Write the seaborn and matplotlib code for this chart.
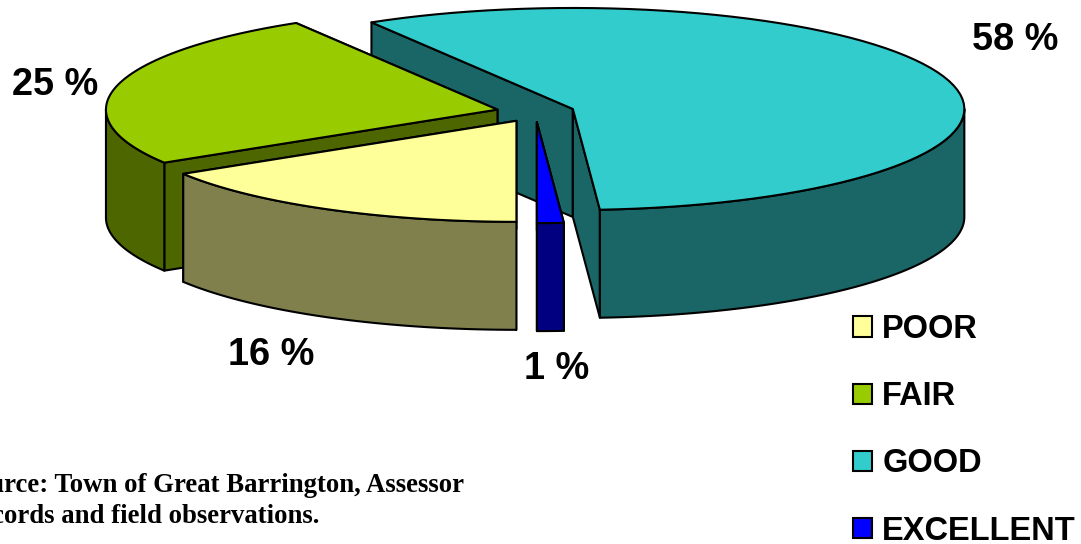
import numpy as np
import matplotlib
matplotlib.use("Agg")
import matplotlib.pyplot as plt
import seaborn as sns
from matplotlib.patches import Patch, Polygon

categories = ["POOR", "FAIR", "GOOD", "EXCELLENT"]
shares = [16.2, 25.2, 57.5, 1.1]
colors = ["#FFFF99", "#99CC00", "#33CCCC", "#0000FF"]
share_labels = ["16 %", "25 %", "58 %", "1 %"]

# pie geometry in pixels, the axes runs 1:1 with the image
cx, cy = 535.5, 112
rx, ry = 391.5, 101
depth = 108
explode = 0.1
first_angle = -90
draw_order = [2, 1, 0, 3]  # back to front
label_pos = [(271, 355), (55, 85), (1015, 40), (557, 369)]

sns.set_theme(style="white")
plt.rcParams["font.family"] = ["Liberation Sans", "DejaVu Sans"]

fig = plt.figure(figsize=(10.81, 5.44), dpi=100)
ax = fig.add_axes([0, 0, 1, 1])
ax.set_xlim(0, 1081)
ax.set_ylim(544, 0)
ax.set_xticks([])
ax.set_yticks([])
sns.despine(ax=ax, left=True, bottom=True)

palette = sns.color_palette(colors)
edges = first_angle - np.cumsum([0] + shares) * 3.6


def rim(x0, y0, a, b):
    t = np.radians(np.linspace(a, b, 80))
    return np.column_stack([x0 + rx * np.cos(t), y0 - ry * np.sin(t)])


def face(pts, color):
    ax.add_patch(Polygon(pts, closed=True, facecolor=color, edgecolor="black",
                         linewidth=1.5, joinstyle="round"))


for i in draw_order:
    start, end = edges[i], edges[i + 1]
    mid = np.radians((start + end) / 2)
    x0 = cx + explode * rx * np.cos(mid)
    y0 = cy - explode * ry * np.sin(mid)
    top_col = palette[i]
    side_col = tuple(c * 0.5 for c in top_col)
    drop = np.array([0, depth])

    # straight walls, the hidden one first
    walls = []
    for ang in (start, end):
        p = rim(x0, y0, ang, ang)[0]
        walls.append(np.array([[x0, y0], p, p + drop, [x0, y0 + depth]]))
    walls.sort(key=lambda w: w[1, 1])
    for w in walls:
        face(w, side_col)

    # round wall, only the part facing the viewer
    for k in (0, -1, -2):
        lo = max(end, -180 + 360 * k)
        hi = min(start, 360 * k)
        if lo < hi:
            arc = rim(x0, y0, lo, hi)
            face(np.vstack([arc, arc[::-1] + drop]), side_col)

    face(np.vstack([[x0, y0], rim(x0, y0, start, end)]), top_col)

for txt, (lx, ly) in zip(share_labels, label_pos):
    ax.text(lx, ly, txt, ha="center", va="center", fontsize=27.3, fontweight="bold", color="black")

handles = [Patch(facecolor=c, edgecolor="black", linewidth=1.5) for c in palette]
ax.legend(handles, categories, loc="upper left", bbox_to_anchor=(853, 314),
          bbox_transform=ax.transData, frameon=False, borderpad=0, borderaxespad=0,
          handlelength=0.57, handleheight=0.57, handletextpad=0.33, labelspacing=1.11,
          labelcolor="black", prop={"size": 23.5, "weight": "bold"})

src = "Source: Town of Great Barrington, Assessor\nRecords and field observations."
ax.text(-39, 501, src, ha="left", va="center", fontsize=19.3, fontweight="bold", color="black",
        family=["Liberation Serif"], linespacing=1.28, clip_on=False)

fig.savefig("out.png", dpi=100)
